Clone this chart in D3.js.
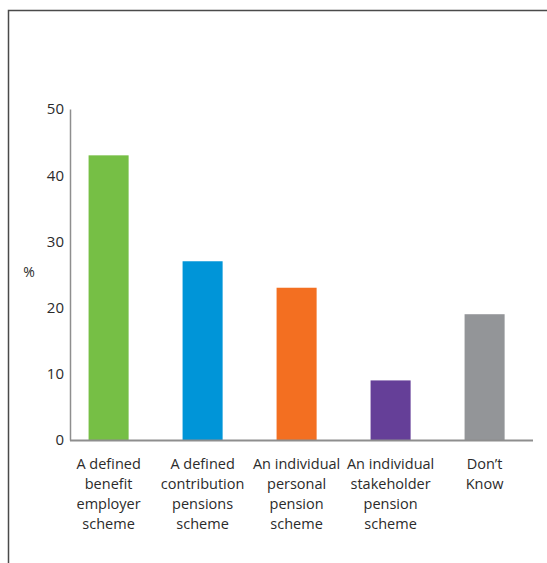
<!DOCTYPE html>
<html>
<head>
<meta charset="utf-8">
<script src="https://cdn.jsdelivr.net/npm/d3@7/dist/d3.min.js"></script>
<style>
  html, body { margin: 0; padding: 0; background: #fff; }
  svg { display: block; font-family: "Open Sans", "Noto Sans", sans-serif; }
</style>
</head>
<body>
<div id="chart"></div>
<script>
// ---- data ----
var categories = [
  "A defined benefit employer scheme",
  "A defined contribution pensions scheme",
  "An individual personal pension scheme",
  "An individual stakeholder pension scheme",
  "Don\u2019t Know"
];
var labelLines = [
  ["A defined", "benefit", "employer", "scheme"],
  ["A defined", "contribution", "pensions", "scheme"],
  ["An individual", "personal", "pension", "scheme"],
  ["An individual", "stakeholder", "pension", "scheme"],
  ["Don\u2019t", "Know"]
];
var values = [43, 27, 23, 9, 19];
var colors = ["#76bf45", "#0095d8", "#f36f21", "#653f98", "#939598"];
var yTicks = [0, 10, 20, 30, 40, 50];

// ---- layout ----
var W = 547, H = 563;
var axisX = 70, axisRight = 533, y0 = 440, yTop = 109;

var svg = d3.select("#chart").append("svg").attr("width", W).attr("height", H);

// frame (top + left edges visible)
svg.append("path")
  .attr("d", "M8.5," + H + " V10.5 H" + W)
  .attr("fill", "none").attr("stroke", "#4a4a4a").attr("stroke-width", 1.5);

var x = d3.scaleBand().domain(categories)
  .range([61.6, 531.6]).paddingInner(0.574).paddingOuter(0.287);
var y = d3.scaleLinear().domain([0, 50]).range([y0, yTop]);

// y axis
var yAxis = svg.append("g").attr("transform", "translate(" + axisX + ",0)")
  .call(d3.axisLeft(y).tickValues(yTicks).tickSize(0).tickPadding(6).tickSizeOuter(0));
yAxis.select(".domain").attr("stroke", "#8e8e8e").attr("stroke-width", 1.5);
yAxis.selectAll("text").attr("font-size", 15).attr("fill", "#2b2b2b")
  .attr("font-family", "'Open Sans', 'Noto Sans', sans-serif");

svg.append("text").attr("x", 29).attr("y", y(25.3)).attr("dy", "0.35em")
  .attr("text-anchor", "middle").attr("font-size", 14).attr("fill", "#2b2b2b").text("%");

// bars
svg.selectAll("rect.bar").data(categories).enter().append("rect").attr("class", "bar")
  .attr("x", function (d) { return x(d); })
  .attr("width", x.bandwidth())
  .attr("y", function (d, i) { return y(values[i]); })
  .attr("height", function (d, i) { return y(0) - y(values[i]); })
  .attr("fill", function (d, i) { return colors[i]; });

// x baseline
svg.append("line").attr("x1", axisX).attr("x2", axisRight)
  .attr("y1", y0 + 0.5).attr("y2", y0 + 0.5)
  .attr("stroke", "#8e8e8e").attr("stroke-width", 2);

// category labels
var lab = svg.selectAll("text.cat").data(categories).enter().append("text").attr("class", "cat")
  .attr("text-anchor", "middle").attr("font-size", 14.5).attr("fill", "#2b2b2b")
  .attr("transform", function (d) { return "translate(" + (x(d) + x.bandwidth() / 2) + "," + (y0 + 29) + ")"; });
lab.each(function (d, i) {
  var t = d3.select(this);
  labelLines[i].forEach(function (ln, k) {
    t.append("tspan").attr("x", 0).attr("y", k * 20).text(ln);
  });
});
</script>
</body>
</html>
